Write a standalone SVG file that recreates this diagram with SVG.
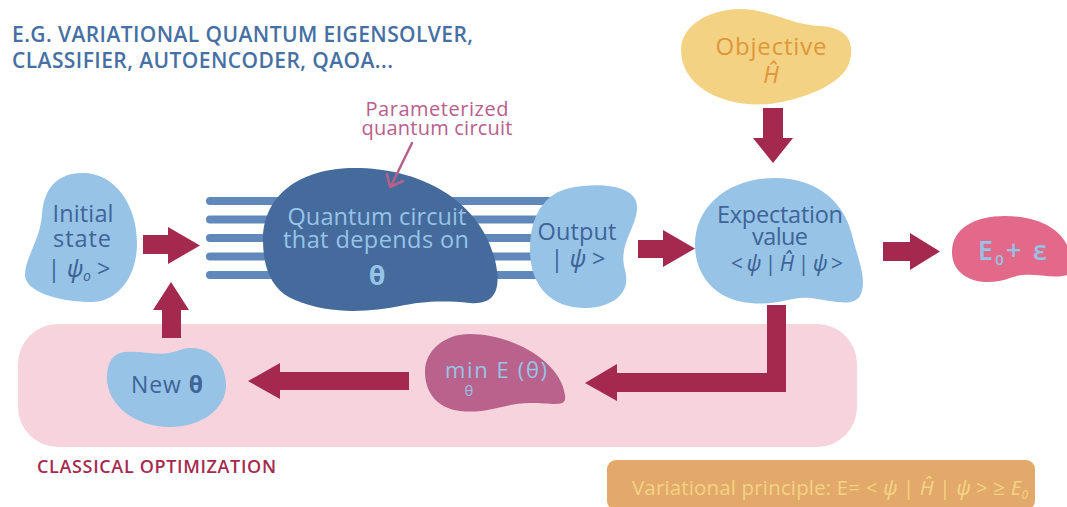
<svg xmlns="http://www.w3.org/2000/svg" width="1067" height="507" viewBox="0 0 1067 507">
<style>
text{font-family:"Open Sans","DejaVu Sans",sans-serif;}
.head{fill:#4670a4;font-size:21px;font-weight:600;}
.lb{fill:#3e6498;font-size:23.5px;text-anchor:middle;}
.lq{fill:#97c3e7;font-size:23.5px;text-anchor:middle;}
.ps{font-family:"Noto Sans","DejaVu Sans",sans-serif;font-style:italic;}
.blue{fill:#97c3e7;}
.arr{fill:#a3294f;}
.wire{stroke:#6188bb;stroke-width:8;stroke-linecap:round;}
</style>
<rect width="1067" height="507" fill="#ffffff"/>
<text class="head" x="12" y="42" textLength="461" lengthAdjust="spacing">E.G. VARIATIONAL QUANTUM EIGENSOLVER,</text>
<text class="head" x="12" y="68" textLength="381" lengthAdjust="spacing">CLASSIFIER, AUTOENCODER, QAOA...</text>

<g id="classical-optimization">
<rect x="18" y="324" width="839" height="123" rx="40" fill="#f7d3dd"/>
<text x="37" y="473" fill="#a52a50" style="font-size:18px;font-weight:600;" textLength="239" lengthAdjust="spacing">CLASSICAL OPTIMIZATION</text>
</g>

<g id="wires">
<line class="wire" x1="210" y1="201" x2="560" y2="201"/>
<line class="wire" x1="210" y1="219.5" x2="560" y2="219.5"/>
<line class="wire" x1="210" y1="238" x2="560" y2="238"/>
<line class="wire" x1="210" y1="256.5" x2="560" y2="256.5"/>
<line class="wire" x1="210" y1="275" x2="560" y2="275"/>
</g>

<g id="initial-state">
<path class="blue" d="M 83 173 C 115 173 137 205 137 243 C 137 280 115 302 92 302 C 60 302 25 292 25 275 C 25 258 40 240 42 215 C 44 185 60 173 83 173 Z"/>
<text class="lb" x="83" y="222" textLength="61" lengthAdjust="spacing">Initial</text>
<text class="lb" x="82" y="247" textLength="58" lengthAdjust="spacing">state</text>
<text class="lb" x="79" y="277">| <tspan class="ps">ψ</tspan><tspan class="ps" font-size="14" dy="4">o</tspan><tspan dy="-4"> &gt;</tspan></text>
</g>

<g id="quantum-circuit">
<path fill="#456b9c" d="M 355 168 C 420 168 480 200 495 260 C 502 290 495 305 470 303 C 440 300 420 302 400 306 C 370 312 330 315 295 300 C 270 290 263 265 263 240 C 263 195 300 168 355 168 Z"/>
<text class="lq" x="377" y="225" textLength="179" lengthAdjust="spacing">Quantum circuit</text>
<text class="lq" x="376" y="248" textLength="186" lengthAdjust="spacing">that depends on</text>
<text class="lq" x="377" y="285" style="font-size:27px;font-weight:700;">θ</text>
</g>

<g id="param-label">
<text x="437" y="116" fill="#b8608c" style="font-size:20px;text-anchor:middle;" textLength="143" lengthAdjust="spacing">Parameterized</text>
<text x="437" y="135" fill="#b8608c" style="font-size:20px;text-anchor:middle;" textLength="151" lengthAdjust="spacing">quantum circuit</text>
</g>

<g id="output">
<path class="blue" d="M 570 188 C 600 182 640 185 637 210 C 635 230 618 245 625 270 C 632 295 610 308 585 308 C 550 308 530 285 530 250 C 530 215 545 193 570 188 Z"/>
<text class="lb" x="577" y="240" textLength="79" lengthAdjust="spacing">Output</text>
<text class="lb" x="578" y="267">| <tspan class="ps">ψ</tspan> &gt;</text>
</g>

<g id="objective">
<path fill="#f3d383" d="M 740 9 C 770 9 790 25 820 26 C 845 27 855 40 850 60 C 845 85 800 100 770 104 C 720 108 681 85 681 50 C 681 25 710 9 740 9 Z"/>
<text x="771" y="55" fill="#e0963a" style="font-size:24px;text-anchor:middle;" textLength="111" lengthAdjust="spacing">Objective</text>
<text x="771" y="83" fill="#e0963a" class="ps" style="font-size:23px;text-anchor:middle;">Ĥ</text>
</g>

<g id="expectation">
<path class="blue" d="M 775 178 C 820 178 845 205 852 235 C 858 260 868 280 860 296 C 852 308 830 300 810 298 C 790 296 780 306 750 303 C 715 300 695 275 695 245 C 695 205 730 178 775 178 Z"/>
<text class="lb" x="780" y="223" textLength="126" lengthAdjust="spacing">Expectation</text>
<text class="lb" x="780" y="245" textLength="56" lengthAdjust="spacing">value</text>
<text class="lb" x="787" y="271" style="font-size:21px;" textLength="112" lengthAdjust="spacing">&lt; <tspan class="ps">ψ</tspan> | <tspan class="ps">Ĥ</tspan> | <tspan class="ps">ψ</tspan> &gt;</text>
</g>

<g id="result">
<path fill="#e2698a" d="M 1005 216 C 1040 216 1060 230 1067 245 L 1067 275 C 1050 280 1030 270 1010 278 C 985 288 952 280 952 252 C 952 228 975 216 1005 216 Z"/>
<text x="978" y="260" class="blue" style="font-size:27px;font-weight:600;" textLength="69" lengthAdjust="spacing">E<tspan font-size="15" dy="5">0</tspan><tspan dy="-5">+ ε</tspan></text>
</g>

<g id="minimize">
<path fill="#b8628c" d="M 470 334 C 510 334 560 360 565 395 C 567 408 555 403 530 403 C 505 403 490 414 460 411 C 435 408 425 390 425 372 C 425 350 445 334 470 334 Z"/>
<text x="445" y="378" class="blue" style="font-size:22px;" textLength="102" lengthAdjust="spacing">min E (θ)</text>
<text x="469" y="396" class="blue" style="font-size:15px;text-anchor:middle;">θ</text>
</g>

<g id="new-theta">
<path class="blue" d="M 125 352 C 145 350 160 358 180 350 C 205 342 226 360 226 385 C 226 410 200 427 170 427 C 135 427 107 405 107 378 C 107 362 113 353 125 352 Z"/>
<text class="lb" x="167" y="393" style="font-size:23px;" textLength="72" lengthAdjust="spacing">New <tspan style="font-weight:700;">θ</tspan></text>
</g>

<g id="variational-principle">
<rect x="607" y="460" width="428" height="50" rx="9" fill="#e3a96a"/>
<text x="632" y="495" fill="#f3d383" style="font-size:20.5px;" textLength="396" lengthAdjust="spacing">Variational principle: E= &lt; <tspan class="ps">ψ</tspan> | <tspan class="ps">Ĥ</tspan> | <tspan class="ps">ψ</tspan> &gt; ≥ <tspan class="ps">E</tspan><tspan class="ps" font-size="12" dy="4">0</tspan></text>
</g>

<g id="connectors">
<polygon class="arr" points="143,235 168,235 168,227 200,245.5 168,264 168,254 143,254"/>
<polygon class="arr" points="162,338 162,310 153,310 171,282 189,310 181,310 181,338"/>
<polygon class="arr" points="638,240 663,240 663,230 695,248.5 663,267 663,258 638,258"/>
<polygon class="arr" points="763,108 783,108 783,138 793,138 773,163 753,138 763,138"/>
<polygon class="arr" points="883,242 910,242 910,233 940,251.5 910,270 910,261 883,261"/>
<polygon class="arr" points="767,305 786,305 786,392 617,392 617,401 585,383 617,364 617,373 767,373"/>
<polygon class="arr" points="409,372 409,390 280,390 280,399 248,381 280,363 280,372"/>
<g id="param-arrow" fill="none" stroke="#b8608c" stroke-width="2.5" stroke-linecap="round" stroke-linejoin="round">
<line x1="412" y1="143" x2="391" y2="186"/>
<polyline points="387,174 390,187 403,181"/>
</g>
</g>
</svg>
